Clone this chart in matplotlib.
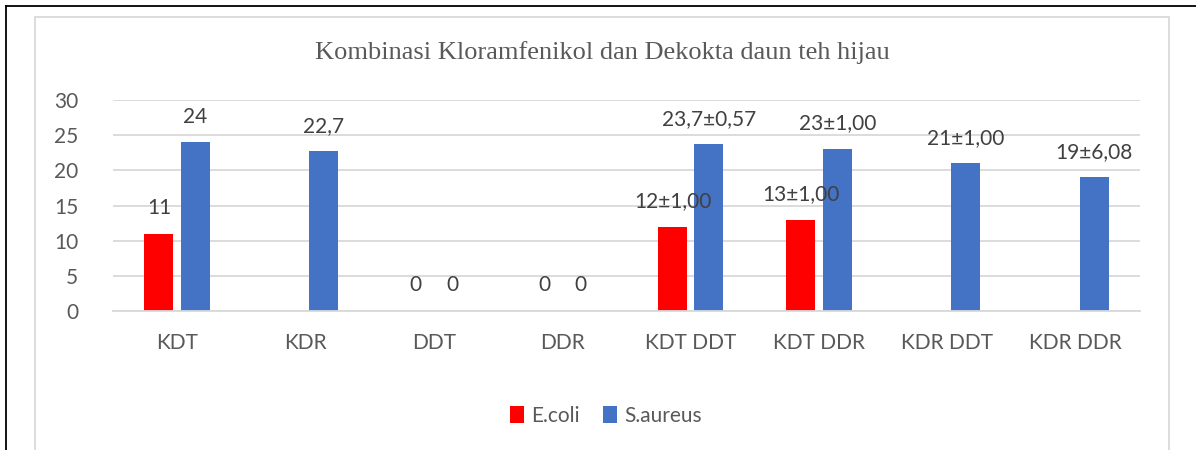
import numpy as np
import matplotlib
import matplotlib.pyplot as plt
from matplotlib.lines import Line2D
from matplotlib.patches import Rectangle

matplotlib.use('Agg')

categories = ["KDT", "KDR", "DDT", "DDR", "KDT DDT", "KDT DDR", "KDR DDT", "KDR DDR"]
ecoli = [11, np.nan, 0, 0, 12, 13, np.nan, np.nan]
saureus = [24, 22.7, 0, 0, 23.7, 23, 21, 19]
ecoli_labels = ["11", "", "0", "0", "12±1,00", "13±1,00", "", ""]
saureus_labels = ["24", "22,7", "0", "0", "23,7±0,57", "23±1,00", "21±1,00", "19±6,08"]
title = "Kombinasi Kloramfenikol dan Dekokta daun teh hijau"

RED = "#FF0000"
BLUE = "#4472C4"
GRID = "#D9D9D9"
TEXT = "#595959"
LABEL = "#404040"
FONT = "Lato"

fig = plt.figure(figsize=(11.96, 4.5), dpi=100)

# outer black border (top + left) and grey chart frame
fig.add_artist(Line2D([6 / 1196, 1.0], [1 - 6 / 450, 1 - 6 / 450], color="black", lw=1.3))
fig.add_artist(Line2D([6 / 1196, 6 / 1196], [0, 1 - 6 / 450], color="black", lw=1.3))
fig.add_artist(Rectangle((35 / 1196, -0.05), (1169 - 35) / 1196, 1.05 - 17 / 450,
                         fill=False, edgecolor=GRID, lw=1.3))

ax = fig.add_axes([113 / 1196, 1 - 311 / 450, 1027 / 1196, 211 / 450])

x = np.arange(len(categories))
w = 0.226
off = 0.142
ax.bar(x - off, ecoli, w, color=RED, label="E.coli")
ax.bar(x + off, saureus, w, color=BLUE, label="S.aureus")

for xi, v, s in zip(x - off, ecoli, ecoli_labels):
    if s:
        ax.annotate(s, (xi, v), xytext=(0, 18.5), textcoords="offset points",
                    ha="center", va="center", fontsize=15, color=LABEL, family=FONT)
for xi, v, s in zip(x + off, saureus, saureus_labels):
    if s:
        ax.annotate(s, (xi, v), xytext=(0, 18.5), textcoords="offset points",
                    ha="center", va="center", fontsize=15, color=LABEL, family=FONT)

ax.set_xlim(-0.5, len(categories) - 0.5)
ax.set_ylim(0, 30)
ax.set_yticks(range(0, 31, 5))
ax.set_xticks(x)
ax.set_xticklabels(categories)
ax.yaxis.grid(True, color=GRID, lw=1.3)
ax.set_axisbelow(True)
for side in ["top", "right", "left"]:
    ax.spines[side].set_visible(False)
ax.spines["bottom"].set_color(GRID)
ax.spines["bottom"].set_linewidth(1.3)
ax.tick_params(axis="both", length=0, labelsize=15, labelcolor=TEXT)
ax.tick_params(axis="x", pad=16)
ax.tick_params(axis="y", pad=25)
for lab in ax.get_xticklabels() + ax.get_yticklabels():
    lab.set_family(FONT)

fig.text(602 / 1196, 1 - 53 / 450, title, ha="center", va="center",
         fontsize=19, color=TEXT, family="Liberation Serif")

fig.legend(loc="center", bbox_to_anchor=(606 / 1196, 1 - 416 / 450), ncol=2, frameon=False,
           prop={"family": FONT, "size": 15}, labelcolor=TEXT,
           handlelength=0.68, handleheight=0.85, handletextpad=0.35, columnspacing=1.1)

fig.savefig("out.png", dpi=100)
